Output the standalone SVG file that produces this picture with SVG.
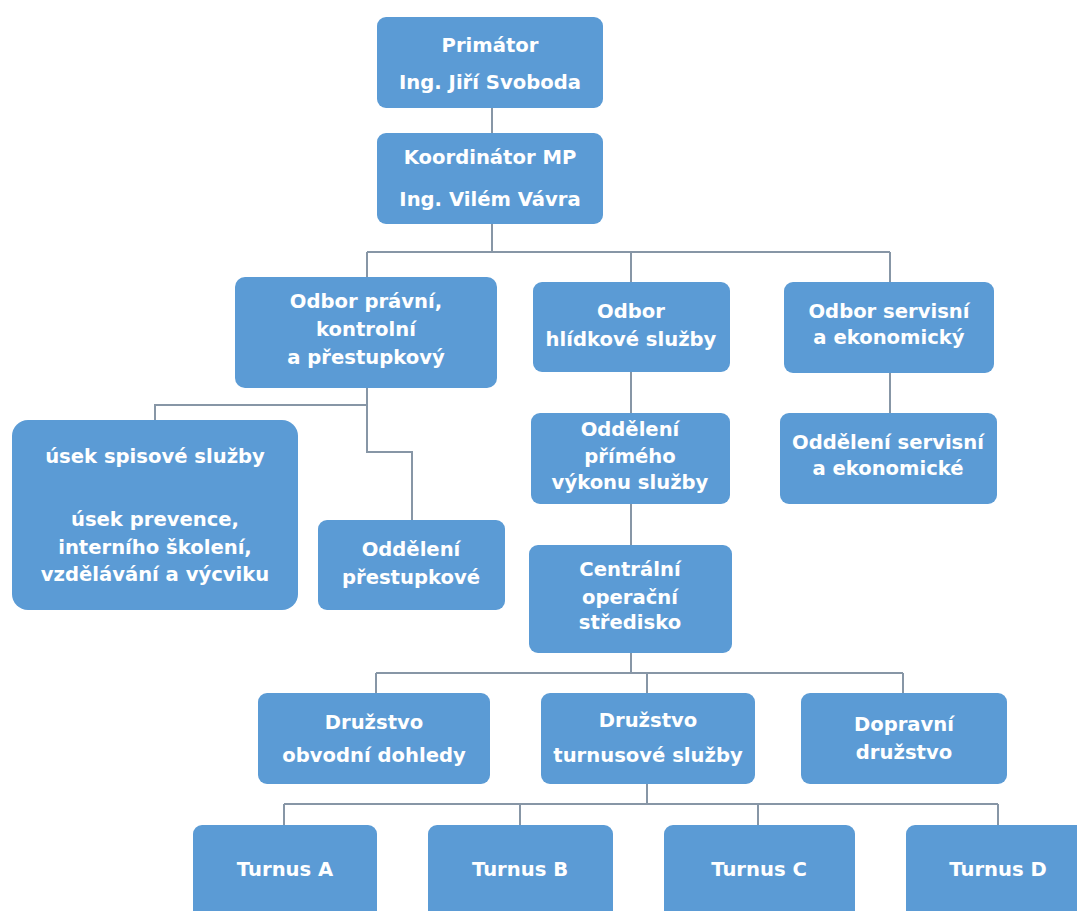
<svg xmlns="http://www.w3.org/2000/svg" width="1077" height="911" viewBox="0 0 1077 911">
<style>
.box{fill:#5b9bd5;}
.t{font-family:"DejaVu Sans","Liberation Sans",sans-serif;font-weight:bold;font-size:19.6px;fill:#ffffff;text-anchor:middle;}
.c{fill:none;stroke:#8796a6;stroke-width:2;}
</style>
<rect width="1077" height="911" fill="#ffffff"/>
<g id="connectors">
<path class="c" d="M492 108V133"/>
<path class="c" d="M492 224V252M367 252H890M367 252V277M631 252V282M890 252V282"/>
<path class="c" d="M367 388V452H412V520M367 405H155V420"/>
<path class="c" d="M631 372V413M631 504V545"/>
<path class="c" d="M890 373V413"/>
<path class="c" d="M631 653V673M376 673H903M376 673V693M647 673V693M903 673V693"/>
<path class="c" d="M647 784V804M284 804H998M284 804V825M520 804V825M758 804V825M998 804V825"/>
</g>
<g id="primator"><rect class="box" x="377" y="17" width="226" height="91" rx="9"/><text class="t" x="490" y="52">Primátor</text><text class="t" x="490" y="89">Ing. Jiří Svoboda</text></g>
<g id="koordinator"><rect class="box" x="377" y="133" width="226" height="91" rx="9"/><text class="t" x="490" y="164">Koordinátor MP</text><text class="t" x="490" y="206">Ing. Vilém Vávra</text></g>
<g id="odbor_pravni"><rect class="box" x="235" y="277" width="262" height="111" rx="10"/><text class="t" x="366" y="308">Odbor právní,</text><text class="t" x="366" y="336">kontrolní</text><text class="t" x="366" y="364">a přestupkový</text></g>
<g id="odbor_hlidkove"><rect class="box" x="533" y="282" width="197" height="90" rx="9"/><text class="t" x="631" y="318">Odbor</text><text class="t" x="631" y="346">hlídkové služby</text></g>
<g id="odbor_servisni"><rect class="box" x="784" y="282" width="210" height="91" rx="9"/><text class="t" x="889" y="318">Odbor servisní</text><text class="t" x="889" y="344">a ekonomický</text></g>
<g id="usek"><rect class="box" x="12" y="420" width="286" height="190" rx="16"/><text class="t" x="155" y="463">úsek spisové služby</text><text class="t" x="155" y="526">úsek prevence,</text><text class="t" x="155" y="554">interního školení,</text><text class="t" x="155" y="581">vzdělávání a výcviku</text></g>
<g id="oddeleni_prestupkove"><rect class="box" x="318" y="520" width="187" height="90" rx="9"/><text class="t" x="411" y="556">Oddělení</text><text class="t" x="411" y="584">přestupkové</text></g>
<g id="oddeleni_primeho"><rect class="box" x="531" y="413" width="199" height="91" rx="9"/><text class="t" x="630" y="436">Oddělení</text><text class="t" x="630" y="463">přímého</text><text class="t" x="630" y="489">výkonu služby</text></g>
<g id="oddeleni_servisni"><rect class="box" x="780" y="413" width="217" height="91" rx="9"/><text class="t" x="888" y="449">Oddělení servisní</text><text class="t" x="888" y="475">a ekonomické</text></g>
<g id="centralni"><rect class="box" x="529" y="545" width="203" height="108" rx="9"/><text class="t" x="630" y="576">Centrální</text><text class="t" x="630" y="604">operační</text><text class="t" x="630" y="629">středisko</text></g>
<g id="druzstvo_obvodni"><rect class="box" x="258" y="693" width="232" height="91" rx="9"/><text class="t" x="374" y="729">Družstvo</text><text class="t" x="374" y="762">obvodní dohledy</text></g>
<g id="druzstvo_turnusove"><rect class="box" x="541" y="693" width="214" height="91" rx="9"/><text class="t" x="648" y="727">Družstvo</text><text class="t" x="648" y="762">turnusové služby</text></g>
<g id="dopravni"><rect class="box" x="801" y="693" width="206" height="91" rx="9"/><text class="t" x="904" y="731">Dopravní</text><text class="t" x="904" y="759">družstvo</text></g>
<g id="turnus_a"><rect class="box" x="193" y="825" width="184" height="100" rx="9"/><text class="t" x="285" y="876">Turnus A</text></g>
<g id="turnus_b"><rect class="box" x="428" y="825" width="185" height="100" rx="9"/><text class="t" x="520" y="876">Turnus B</text></g>
<g id="turnus_c"><rect class="box" x="664" y="825" width="191" height="100" rx="9"/><text class="t" x="759" y="876">Turnus C</text></g>
<g id="turnus_d"><rect class="box" x="906" y="825" width="184" height="100" rx="9"/><text class="t" x="998" y="876">Turnus D</text></g>
</svg>
